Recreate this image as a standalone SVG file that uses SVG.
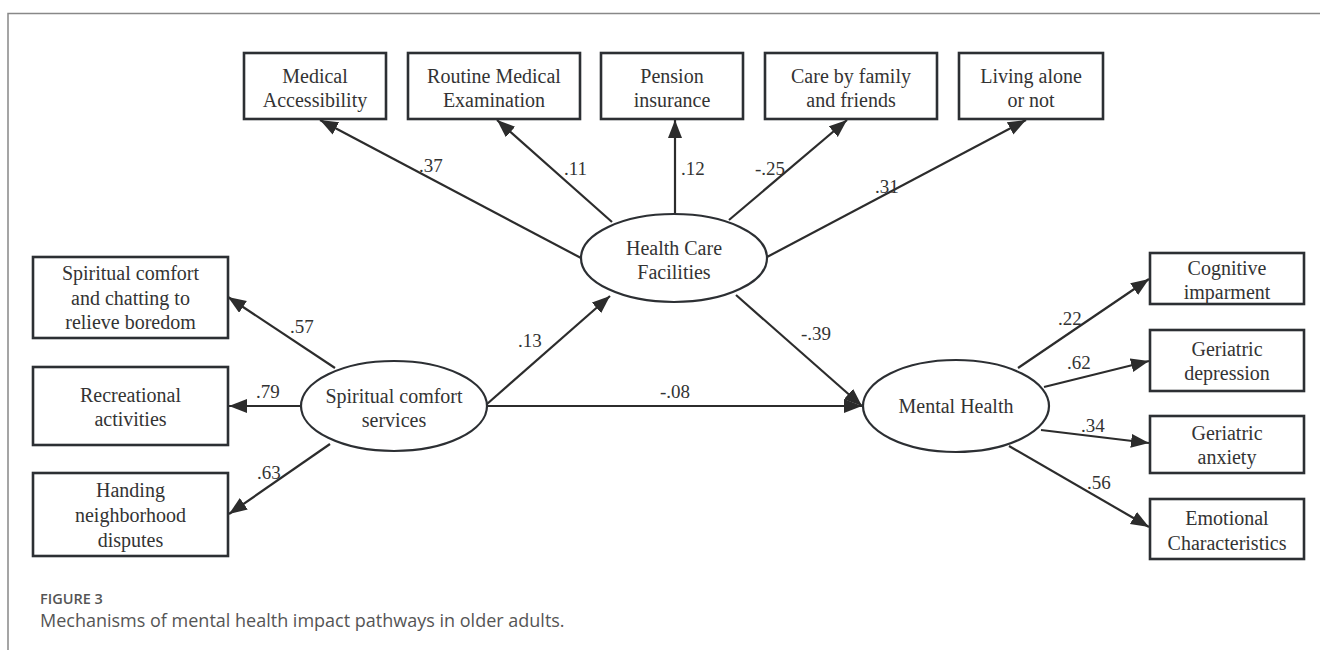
<svg xmlns="http://www.w3.org/2000/svg" width="1320" height="650" viewBox="0 0 1320 650">
<style>
.box{fill:#fff;stroke:#2c2f33;stroke-width:2.6}
.ell{fill:#fff;stroke:#2c2f33;stroke-width:2.2}
.t{font-family:"Liberation Serif","Times New Roman",serif;font-size:20px;fill:#333;text-anchor:middle}
.lb{font-family:"Liberation Serif","Times New Roman",serif;font-size:19px;fill:#333}
.c{stroke:#2c2c2c;stroke-width:2.2;fill:none;marker-end:url(#ah)}
.fig{font-family:"Open Sans","Noto Sans",sans-serif;font-size:14.5px;font-weight:600;fill:#555}
.cap{font-family:"Open Sans","Noto Sans",sans-serif;font-size:18px;fill:#555}
</style>
<defs>
<marker id="ah" markerUnits="userSpaceOnUse" markerWidth="20" markerHeight="16" refX="18" refY="7" orient="auto">
<path d="M0,0 L18,7 L0,14 Z" fill="#2c2c2c"/>
</marker>
</defs>
<rect width="1320" height="650" fill="#fff"/>
<g id="frame" stroke="#888" stroke-width="1.5" fill="none">
<path d="M8,650 L8,13.5 L1320,13.5"/>
</g>
<g id="connectors">
<line class="c" x1="581" y1="258" x2="320" y2="120"/>
<line class="c" x1="612" y1="222" x2="497" y2="120"/>
<line class="c" x1="675" y1="214" x2="675" y2="120"/>
<line class="c" x1="729" y1="220" x2="847" y2="120"/>
<line class="c" x1="767" y1="257" x2="1026" y2="120"/>
<line class="c" x1="335" y1="368" x2="228" y2="297"/>
<line class="c" x1="301" y1="406" x2="229" y2="406"/>
<line class="c" x1="330" y1="444" x2="229" y2="514"/>
<line class="c" x1="487" y1="404" x2="610" y2="296"/>
<line class="c" x1="487" y1="406" x2="862" y2="406"/>
<line class="c" x1="736" y1="295" x2="862" y2="406"/>
<line class="c" x1="1018" y1="368" x2="1149" y2="279"/>
<line class="c" x1="1044" y1="387" x2="1149" y2="361"/>
<line class="c" x1="1041" y1="430" x2="1149" y2="443"/>
<line class="c" x1="1009" y1="446" x2="1149" y2="527"/>
<text class="lb" x="419" y="172">.37</text>
<text class="lb" x="564" y="175">.11</text>
<text class="lb" x="681" y="175">.12</text>
<text class="lb" x="755" y="175">-.25</text>
<text class="lb" x="875" y="193">.31</text>
<text class="lb" x="290" y="333">.57</text>
<text class="lb" x="256" y="398">.79</text>
<text class="lb" x="257" y="479">.63</text>
<text class="lb" x="518" y="347">.13</text>
<text class="lb" x="660" y="398">-.08</text>
<text class="lb" x="801" y="340">-.39</text>
<text class="lb" x="1058" y="325">.22</text>
<text class="lb" x="1067" y="369">.62</text>
<text class="lb" x="1081" y="432">.34</text>
<text class="lb" x="1087" y="489">.56</text>
</g>
<g id="medical-accessibility"><rect class="box" x="244" y="53" width="142" height="66"/><text class="t" x="315" y="83">Medical</text><text class="t" x="315" y="107">Accessibility</text></g>
<g id="routine-medical-examination"><rect class="box" x="408" y="53" width="172" height="66"/><text class="t" x="494" y="83">Routine Medical</text><text class="t" x="494" y="107">Examination</text></g>
<g id="pension-insurance"><rect class="box" x="601" y="53" width="142" height="66"/><text class="t" x="672" y="83">Pension</text><text class="t" x="672" y="107">insurance</text></g>
<g id="care-by-family"><rect class="box" x="765" y="53" width="172" height="66"/><text class="t" x="851" y="83">Care by family</text><text class="t" x="851" y="107">and friends</text></g>
<g id="living-alone"><rect class="box" x="959" y="53" width="144" height="66"/><text class="t" x="1031" y="83">Living alone</text><text class="t" x="1031" y="107">or not</text></g>
<g id="health-care-facilities"><ellipse class="ell" cx="674" cy="258" rx="93" ry="44"/><text class="t" x="674" y="255">Health Care</text><text class="t" x="674" y="279">Facilities</text></g>
<g id="spiritual-comfort-chatting"><rect class="box" x="33" y="257" width="195" height="81"/><text class="t" x="130.5" y="280">Spiritual comfort</text><text class="t" x="130.5" y="305">and chatting to</text><text class="t" x="130.5" y="329">relieve boredom</text></g>
<g id="recreational-activities"><rect class="box" x="33" y="367" width="195" height="78"/><text class="t" x="130.5" y="402">Recreational</text><text class="t" x="130.5" y="426">activities</text></g>
<g id="handing-disputes"><rect class="box" x="33" y="473" width="195" height="83"/><text class="t" x="130.5" y="497">Handing</text><text class="t" x="130.5" y="522">neighborhood</text><text class="t" x="130.5" y="547">disputes</text></g>
<g id="spiritual-comfort-services"><ellipse class="ell" cx="394" cy="406" rx="93" ry="45"/><text class="t" x="394" y="403">Spiritual comfort</text><text class="t" x="394" y="427">services</text></g>
<g id="mental-health"><ellipse class="ell" cx="956" cy="406" rx="93" ry="46"/><text class="t" x="956" y="413">Mental Health</text></g>
<g id="cognitive-imparment"><rect class="box" x="1150" y="253" width="154" height="51"/><text class="t" x="1227" y="275">Cognitive</text><text class="t" x="1227" y="299">imparment</text></g>
<g id="geriatric-depression"><rect class="box" x="1150" y="330" width="154" height="61"/><text class="t" x="1227" y="356">Geriatric</text><text class="t" x="1227" y="380">depression</text></g>
<g id="geriatric-anxiety"><rect class="box" x="1150" y="416" width="154" height="57"/><text class="t" x="1227" y="440">Geriatric</text><text class="t" x="1227" y="464">anxiety</text></g>
<g id="emotional-characteristics"><rect class="box" x="1150" y="499" width="154" height="60"/><text class="t" x="1227" y="525">Emotional</text><text class="t" x="1227" y="550">Characteristics</text></g>
<g id="caption">
<text class="fig" x="40" y="604">FIGURE 3</text>
<text class="cap" x="40" y="627">Mechanisms of mental health impact pathways in older adults.</text>
</g>
</svg>
